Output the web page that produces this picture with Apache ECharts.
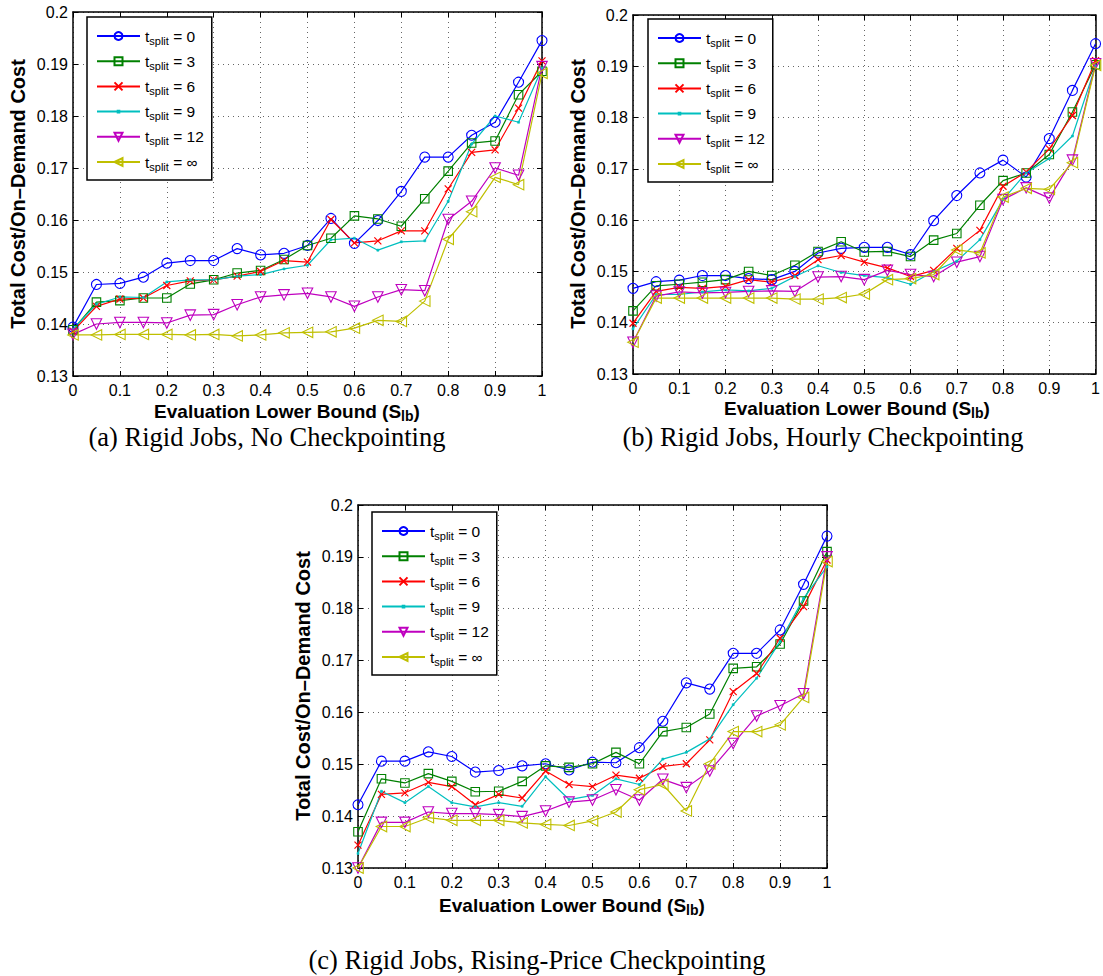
<!DOCTYPE html>
<html>
<head>
<meta charset="utf-8">
<script src="https://cdn.jsdelivr.net/npm/echarts@6/dist/echarts.min.js"></script>
<style>
  html, body { margin: 0; padding: 0; background: #fff; }
  #chart { width: 1103px; height: 976px; }
</style>
</head>
<body>
<div id="chart"></div>
<script>
// Evaluation lower bound S_lb (x values shared by all panels)
const sLb = [0, 0.05, 0.1, 0.15, 0.2, 0.25, 0.3, 0.35, 0.4, 0.45, 0.5,
             0.55, 0.6, 0.65, 0.7, 0.75, 0.8, 0.85, 0.9, 0.95, 1];
// t_split values, one series per value
const splitValues = ['0', '3', '6', '9', '12', '\u221e'];
const xTicks = [0, 0.1, 0.2, 0.3, 0.4, 0.5, 0.6, 0.7, 0.8, 0.9, 1];
const yTicks = [0.13, 0.14, 0.15, 0.16, 0.17, 0.18, 0.19, 0.2];

// (a) Rigid Jobs, No Checkpointing
const aT0   = [0.1394,0.1476,0.1478,0.1490,0.1517,0.1522,0.1522,0.1545,0.1533,0.1536,0.1551,0.1603,0.1555,0.1599,0.1655,0.1721,0.1721,0.1763,0.1788,0.1865,0.1945];
const aT3   = [0.1389,0.1442,0.1445,0.1450,0.1450,0.1477,0.1485,0.1498,0.1503,0.1524,0.1551,0.1565,0.1608,0.1602,0.1588,0.1641,0.1694,0.1748,0.1752,0.1841,0.1886];
const aT6   = [0.1386,0.1434,0.1448,0.1450,0.1474,0.1483,0.1485,0.1492,0.1501,0.1522,0.1519,0.1601,0.1556,0.1560,0.1579,0.1579,0.1660,0.1730,0.1735,0.1815,0.1906];
const aT9   = [0.1390,0.1438,0.1452,0.1451,0.1481,0.1485,0.1485,0.1492,0.1495,0.1506,0.1513,0.1562,0.1565,0.1542,0.1558,0.1560,0.1636,0.1746,0.1800,0.1788,0.1892];
const aT12  = [0.1380,0.1400,0.1403,0.1403,0.1402,0.1417,0.1418,0.1437,0.1452,0.1456,0.1459,0.1452,0.1434,0.1452,0.1466,0.1464,0.1601,0.1636,0.1700,0.1686,0.1895];
const aTinf = [0.1379,0.1379,0.1380,0.1380,0.1380,0.1379,0.1380,0.1377,0.1379,0.1383,0.1384,0.1385,0.1392,0.1407,0.1405,0.1444,0.1563,0.1616,0.1682,0.1668,0.1882];

// (b) Rigid Jobs, Hourly Checkpointing
const bT0   = [0.1467,0.1480,0.1483,0.1492,0.1492,0.1486,0.1484,0.1500,0.1536,0.1545,0.1547,0.1547,0.1533,0.1599,0.1648,0.1692,0.1717,0.1684,0.1759,0.1853,0.1944];
const bT3   = [0.1423,0.1472,0.1475,0.1479,0.1484,0.1500,0.1492,0.1512,0.1539,0.1558,0.1538,0.1539,0.1529,0.1561,0.1574,0.1629,0.1677,0.1692,0.1728,0.1811,0.1903];
const bT6   = [0.1399,0.1461,0.1469,0.1467,0.1471,0.1484,0.1479,0.1492,0.1523,0.1531,0.1518,0.1507,0.1490,0.1502,0.1545,0.1580,0.1666,0.1694,0.1739,0.1804,0.1911];
const bT9   = [0.1388,0.1455,0.1455,0.1460,0.1464,0.1462,0.1467,0.1490,0.1511,0.1498,0.1492,0.1488,0.1475,0.1500,0.1520,0.1562,0.1640,0.1692,0.1720,0.1764,0.1900];
const bT12  = [0.1362,0.1452,0.1460,0.1458,0.1459,0.1461,0.1462,0.1461,0.1489,0.1490,0.1484,0.1502,0.1494,0.1490,0.1518,0.1529,0.1640,0.1663,0.1643,0.1717,0.1905];
const bTinf = [0.1362,0.1448,0.1448,0.1448,0.1448,0.1448,0.1448,0.1446,0.1446,0.1449,0.1456,0.1484,0.1486,0.1494,0.1542,0.1536,0.1645,0.1662,0.1660,0.1712,0.1902];

// (c) Rigid Jobs, Rising-Price Checkpointing
const cT0   = [0.1422,0.1506,0.1506,0.1524,0.1515,0.1485,0.1488,0.1497,0.1501,0.1489,0.1504,0.1503,0.1532,0.1583,0.1657,0.1645,0.1714,0.1714,0.1759,0.1847,0.1940];
const cT3   = [0.1370,0.1472,0.1464,0.1482,0.1467,0.1447,0.1448,0.1467,0.1497,0.1494,0.1501,0.1523,0.1501,0.1563,0.1571,0.1597,0.1685,0.1688,0.1732,0.1815,0.1910];
const cT6   = [0.1344,0.1442,0.1445,0.1465,0.1457,0.1422,0.1442,0.1435,0.1487,0.1461,0.1457,0.1479,0.1473,0.1496,0.1501,0.1547,0.1640,0.1675,0.1743,0.1804,0.1894];
const cT9   = [0.1328,0.1448,0.1426,0.1457,0.1426,0.1418,0.1426,0.1419,0.1476,0.1432,0.1440,0.1472,0.1461,0.1510,0.1523,0.1549,0.1615,0.1666,0.1737,0.1820,0.1881];
const cT12  = [0.1300,0.1388,0.1388,0.1408,0.1405,0.1405,0.1403,0.1399,0.1410,0.1427,0.1431,0.1451,0.1431,0.1471,0.1455,0.1487,0.1540,0.1593,0.1613,0.1636,0.1900];
const cTinf = [0.1300,0.1380,0.1380,0.1397,0.1392,0.1392,0.1392,0.1387,0.1384,0.1382,0.1391,0.1408,0.1451,0.1461,0.1410,0.1501,0.1563,0.1563,0.1576,0.1629,0.1891];

const captions = [
  '(a) Rigid Jobs, No Checkpointing',
  '(b) Rigid Jobs, Hourly Checkpointing',
  '(c) Rigid Jobs, Rising-Price Checkpointing'
];
const xTitle = 'Evaluation Lower Bound (S';
const xTitleSub = 'lb';
const yTitle = 'Total Cost/On\u2013Demand Cost';

// Small point marker: a 2x2 square centred in a 10x10 frame (the frame
// corners are zero-length segments so the dot stays small in the legend too)
const DOT = 'path://M0,0L0.001,0M10,10L9.999,10M4,4L6,4L6,6L4,6Z';

// Marker / colour style per t_split series
const seriesStyle = [
  { color: '#0000ff', symbol: 'circle', size: 10, rotate: 0, fill: 'transparent', bw: 1.1 },
  { color: '#008000', symbol: 'rect', size: 8.5, rotate: 0, fill: 'transparent', bw: 1.1 },
  { color: '#ff0000', symbol: 'path://M0,0L10,10M10,0L0,10', size: 7, rotate: 0, fill: 'transparent', bw: 1.2 },
  { color: '#00bfbf', symbol: DOT, size: 10, rotate: 0, fill: '#00bfbf', bw: 0.6 },
  { color: '#bf00bf', symbol: 'triangle', size: 10.5, rotate: 180, fill: 'transparent', bw: 1.1 },
  { color: '#bfbf00', symbol: 'triangle', size: 10.5, rotate: 90, fill: 'transparent', bw: 1.1 }
];

// Panel layout
const panels = [
  { values: [aT0, aT3, aT6, aT9, aT12, aTinf], grid: { left: 73, top: 12, width: 469, height: 364 },
    legend: { left: 87, top: 17 }, xName: [287, 411], yName: [18, 194], caption: [267, 437] },
  { values: [bT0, bT3, bT6, bT9, bT12, bTinf], grid: { left: 633, top: 15, width: 469, height: 359 },
    legend: { left: 648, top: 19 }, xName: [857, 408], yName: [578, 194], caption: [823, 437] },
  { values: [cT0, cT3, cT6, cT9, cT12, cTinf], grid: { left: 358, top: 505, width: 469, height: 363 },
    legend: { left: 372, top: 512 }, xName: [572, 905], yName: [303, 686], caption: [537, 960] }
];

const SANS = '"Liberation Sans", Arial, Helvetica, sans-serif';
const SERIF = '"Liberation Serif", "Times New Roman", serif';
const fmtX = v => String(+v.toFixed(1));
const fmtY = v => String(+v.toFixed(2));

const grids = [], xAxes = [], yAxes = [], series = [], legends = [], graphics = [];

panels.forEach((p, k) => {
  grids.push(Object.assign({ containLabel: false }, p.grid));

  const axisLine = { show: true, onZero: false, lineStyle: { color: '#000', width: 1.5 } };
  const tick = { show: true, inside: true, length: 5, lineStyle: { color: '#000', width: 1 } };
  const grid = { show: true, lineStyle: { type: [1, 4], color: '#000', width: 1, opacity: 0.6 } };

  xAxes.push({
    gridIndex: k, type: 'value', position: 'bottom',
    min: xTicks[0], max: xTicks[xTicks.length - 1], interval: 0.1,
    axisLine, axisTick: tick, splitLine: grid,
    axisLabel: { color: '#000', fontSize: 16, fontFamily: SANS, margin: 6, formatter: fmtX }
  });
  xAxes.push({
    gridIndex: k, type: 'value', position: 'top',
    min: xTicks[0], max: xTicks[xTicks.length - 1], interval: 0.1,
    axisLine, axisTick: tick, splitLine: { show: false }, axisLabel: { show: false }
  });
  yAxes.push({
    gridIndex: k, type: 'value', position: 'left',
    min: yTicks[0], max: yTicks[yTicks.length - 1], interval: 0.01,
    axisLine, axisTick: tick, splitLine: grid,
    axisLabel: { color: '#000', fontSize: 16, fontFamily: SANS, margin: 5, formatter: fmtY }
  });
  yAxes.push({
    gridIndex: k, type: 'value', position: 'right',
    min: yTicks[0], max: yTicks[yTicks.length - 1], interval: 0.01,
    axisLine, axisTick: tick, splitLine: { show: false }, axisLabel: { show: false }
  });

  p.values.forEach((vals, i) => {
    const st = seriesStyle[i];
    series.push({
      type: 'line',
      name: splitValues[i],
      xAxisIndex: 2 * k, yAxisIndex: 2 * k,
      data: sLb.map((x, j) => [x, vals[j]]),
      symbol: st.symbol, symbolSize: st.size, symbolRotate: st.rotate,
      showSymbol: true, showAllSymbol: true,
      lineStyle: { color: st.color, width: 1.2 },
      itemStyle: { color: st.fill, borderColor: st.color, borderWidth: st.bw },
      emphasis: { disabled: true },
      animation: false
    });
  });

  legends.push({
    left: p.legend.left, top: p.legend.top,
    orient: 'vertical', selectedMode: false,
    data: splitValues,
    backgroundColor: '#fff', borderColor: '#000', borderWidth: 1.5,
    padding: [9, 8, 8, 9], itemGap: 5.2, itemWidth: 43, itemHeight: 10,
    formatter: n => '{t|t}{s|split}{t| = ' + n + '}',
    textStyle: {
      color: '#000',
      rich: {
        t: { fontSize: 15.5, fontFamily: SANS, color: '#000', lineHeight: 24 },
        s: { fontSize: 11, fontFamily: SANS, color: '#000', lineHeight: 15, padding: [9, 0, 0, 0] }
      }
    }
  });

  graphics.push({
    type: 'text', x: p.xName[0], y: p.xName[1],
    style: {
      text: '{b|' + xTitle + '}{s|' + xTitleSub + '}{b|)}',
      align: 'center', verticalAlign: 'middle',
      rich: {
        b: { fontSize: 19, fontWeight: 'bold', fontFamily: SANS, fill: '#000', lineHeight: 22 },
        s: { fontSize: 14, fontWeight: 'bold', fontFamily: SANS, fill: '#000', padding: [10, 0, 0, 0] }
      }
    }
  });
  graphics.push({
    type: 'text', x: p.yName[0], y: p.yName[1], rotation: Math.PI / 2,
    style: {
      text: yTitle, align: 'center', verticalAlign: 'middle',
      fontSize: 20, fontWeight: 'bold', fontFamily: SANS, fill: '#000'
    }
  });
  graphics.push({
    type: 'text', x: p.caption[0], y: p.caption[1],
    style: {
      text: captions[k], align: 'center', verticalAlign: 'middle',
      fontSize: 26.5, fontFamily: SERIF, fill: '#000'
    }
  });
});

const chart = echarts.init(document.getElementById('chart'), null, { renderer: 'svg' });
chart.setOption({
  backgroundColor: '#fff',
  animation: false,
  grid: grids,
  xAxis: xAxes,
  yAxis: yAxes,
  legend: legends,
  series: series,
  graphic: graphics
});
</script>
</body>
</html>
